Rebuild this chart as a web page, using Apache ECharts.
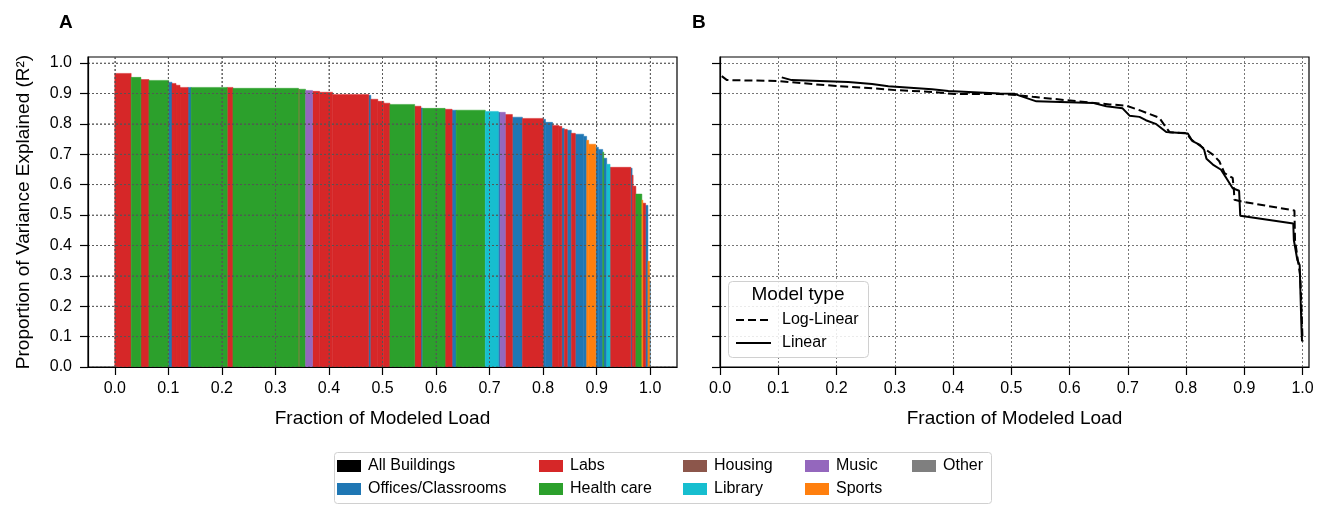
<!DOCTYPE html>
<html>
<head>
<meta charset="utf-8">
<script src="https://cdn.jsdelivr.net/npm/echarts@6/dist/echarts.min.js"></script>
<style>
html,body{margin:0;padding:0;background:#fff;}
#chart{width:1328px;height:506px;}
</style>
</head>
<body>
<div id="chart"></div>
<script>
// ---------- DATA ----------
const typeNames = ['All Buildings','Offices/Classrooms','Labs','Health care','Housing','Library','Music','Sports','Other'];
const typeColors = ['#000000','#1f77b4','#d62728','#2ca02c','#8c564b','#17becf','#9467bd','#ff7f0e','#7f7f7f'];
// legend columns (column-major like the reference)
const legendColumns = [['All Buildings','Offices/Classrooms'],['Labs','Health care'],['Housing','Library'],['Music','Sports'],['Other']];

// Panel A: cumulative fraction of modeled load (bar edges), R2 and building type per bar
const loadEdges = [0, 0.0306, 0.0488, 0.0638, 0.1007, 0.1069, 0.1144, 0.1219, 0.1369, 0.1425, 0.2100,
  0.2207, 0.3431, 0.3450, 0.3563, 0.3694, 0.3825, 0.4069, 0.4744, 0.4782, 0.4913,
  0.5025, 0.5138, 0.5601, 0.5719, 0.5751, 0.6169, 0.6300, 0.6375, 0.6919, 0.7163,
  0.7195, 0.7294, 0.7426, 0.7613, 0.8001, 0.8044, 0.8176, 0.8294, 0.8350, 0.8395,
  0.8451, 0.8526, 0.8601, 0.8757, 0.8813, 0.8851, 0.8982, 0.9032, 0.9113, 0.9132,
  0.9188, 0.9250, 0.9638, 0.9662, 0.9681, 0.9732, 0.9844, 0.9863, 0.9914, 0.9957,
  0.9989, 1.0000];
const barR2 = [0.966, 0.953, 0.946, 0.943, 0.937, 0.933, 0.927, 0.920, 0.920, 0.920,
  0.920, 0.917, 0.914, 0.914, 0.910, 0.907, 0.904, 0.897, 0.894, 0.881,
  0.874, 0.868, 0.864, 0.858, 0.852, 0.851, 0.848, 0.845, 0.845, 0.841,
  0.838, 0.838, 0.831, 0.822, 0.818, 0.815, 0.805, 0.795, 0.792, 0.785,
  0.782, 0.779, 0.769, 0.766, 0.759, 0.746, 0.733, 0.723, 0.716, 0.707,
  0.687, 0.667, 0.657, 0.654, 0.631, 0.595, 0.569, 0.549, 0.539, 0.532,
  0.348, 0.283];
const barType = ['Labs','Health care','Labs','Health care','Offices/Classrooms','Labs','Labs','Labs','Offices/Classrooms','Health care',
  'Labs','Health care','Labs','Health care','Music','Labs','Labs','Labs','Offices/Classrooms','Labs',
  'Labs','Labs','Health care','Labs','Offices/Classrooms','Health care','Labs','Offices/Classrooms','Health care','Library',
  'Offices/Classrooms','Music','Labs','Offices/Classrooms','Labs','Offices/Classrooms','Offices/Classrooms','Labs','Labs','Offices/Classrooms',
  'Labs','Offices/Classrooms','Labs','Offices/Classrooms','Offices/Classrooms','Sports','Sports','Offices/Classrooms','Offices/Classrooms','Health care',
  'Offices/Classrooms','Library','Labs','Offices/Classrooms','Labs','Labs','Health care','Sports','Labs','Offices/Classrooms',
  'Sports','Offices/Classrooms'];

// Panel B: model curves
const logLinLoad = [0.003, 0.012, 0.1, 0.158, 0.203, 0.255, 0.301, 0.364, 0.404, 0.48, 0.508, 0.537, 0.594, 0.669, 0.697, 0.72, 0.754, 0.766, 0.772, 0.8, 0.809, 0.834, 0.846, 0.857, 0.866, 0.88, 0.882, 0.883, 0.897, 0.986, 0.987, 0.992, 0.996, 0.998, 1.0];
const logLinR2 = [0.957, 0.944, 0.941, 0.931, 0.924, 0.918, 0.911, 0.905, 0.898, 0.898, 0.895, 0.889, 0.878, 0.864, 0.86, 0.845, 0.82, 0.787, 0.772, 0.77, 0.748, 0.715, 0.699, 0.677, 0.638, 0.622, 0.584, 0.55, 0.544, 0.515, 0.418, 0.35, 0.3, 0.2, 0.084];
const linLoad = [0.106, 0.123, 0.22, 0.261, 0.289, 0.364, 0.392, 0.48, 0.505, 0.514, 0.543, 0.64, 0.663, 0.691, 0.703, 0.72, 0.731, 0.749, 0.766, 0.803, 0.811, 0.823, 0.831, 0.835, 0.846, 0.86, 0.869, 0.88, 0.891, 0.893, 0.984, 0.985, 0.991, 0.995, 0.998, 0.999];
const linR2 = [0.953, 0.944, 0.938, 0.931, 0.924, 0.914, 0.908, 0.9, 0.899, 0.893, 0.874, 0.869, 0.858, 0.851, 0.827, 0.823, 0.812, 0.799, 0.773, 0.768, 0.743, 0.732, 0.715, 0.685, 0.666, 0.649, 0.622, 0.588, 0.58, 0.498, 0.472, 0.418, 0.352, 0.335, 0.132, 0.085];

const tickValues = [0, 0.1, 0.2, 0.3, 0.4, 0.5, 0.6, 0.7, 0.8, 0.9, 1.0];

// ---------- CHART ----------
const FONT = '"Liberation Sans", Arial, Helvetica, sans-serif';
const chart = echarts.init(document.getElementById('chart'), null, {renderer: 'canvas'});

function renderBar(params, api) {
  const x0 = api.value(0), x1 = api.value(1), r = api.value(2);
  const a = api.coord([x0, r]);
  const b = api.coord([x1, 0]);
  const c = api.visual('color');
  return {
    type: 'rect',
    shape: {x: a[0], y: a[1], width: b[0] - a[0], height: b[1] - a[1]},
    style: {fill: c, stroke: c, lineWidth: 0.5}
  };
}

const barSeries = typeNames.map((name, k) => {
  const data = [];
  for (let i = 0; i < barR2.length; i++) {
    if (barType[i] === name) data.push([loadEdges[i], loadEdges[i + 1], barR2[i]]);
  }
  return {
    type: 'custom', name: name, xAxisIndex: 0, yAxisIndex: 0,
    renderItem: renderBar, encode: {x: [0, 1], y: 2},
    itemStyle: {color: typeColors[k]}, data: data, z: 2, silent: true
  };
});

const GRID_COLOR = '#555';
const GRID_DASH = [2, 2];
const gridLine = {show: true, lineStyle: {color: GRID_COLOR, width: 0.8, type: GRID_DASH}};
const fmt = v => Number(v).toFixed(1);

// grid lines drawn over the bars in panel A (as in the reference), placed with the axis scales
function renderGridOverlay(params, api) {
  const v = api.value(0);
  const cs = params.coordSys;
  const px = api.coord([v, 0])[0];
  const py = api.coord([0, v])[1];
  const st = {stroke: GRID_COLOR, lineWidth: 0.8, lineDash: GRID_DASH, fill: null};
  return {
    type: 'group', silent: true,
    children: [
      {type: 'line', shape: {x1: px, y1: cs.y, x2: px, y2: cs.y + cs.height}, style: st},
      {type: 'line', shape: {x1: cs.x, y1: py, x2: cs.x + cs.width, y2: py}, style: st}
    ]
  };
}
const gridOverlay = {
  type: 'custom', name: 'gridOverlay', xAxisIndex: 0, yAxisIndex: 0,
  renderItem: renderGridOverlay, encode: {x: 0, y: 0},
  data: tickValues.map(v => [v]), z: 4, silent: true
};

function xAxisCfg(gi, min, max, extra) {
  return Object.assign({
    gridIndex: gi, type: 'value', min: min, max: max, z: 5,
    axisLine: {show: true, onZero: false, lineStyle: {color: '#000', width: 1.2}},
    axisTick: {show: true, customValues: tickValues, length: 8, lineStyle: {color: '#000', width: 1.2}},
    axisLabel: {customValues: tickValues, formatter: fmt, fontSize: 16, color: '#000', margin: 14, fontFamily: FONT},
    splitLine: gridLine,
    name: 'Fraction of Modeled Load', nameLocation: 'middle', nameGap: 42,
    nameTextStyle: {fontSize: 19, color: '#000', fontFamily: FONT}
  }, extra || {});
}
function yAxisCfg(gi, showLabels, extra) {
  return Object.assign({
    gridIndex: gi, type: 'value', min: 0, max: 1.02, interval: 0.1, z: 5,
    axisLine: {show: true, onZero: false, lineStyle: {color: '#000', width: 1.2}},
    axisTick: {show: true, customValues: tickValues, length: 8, lineStyle: {color: '#000', width: 1.2}},
    axisLabel: {show: showLabels, customValues: tickValues, formatter: fmt, fontSize: 16, color: '#000', margin: 16, fontFamily: FONT},
    splitLine: gridLine
  }, extra || {});
}

const legends = legendColumns.map((col, i) => ({
  data: col, orient: 'vertical', left: [337, 539, 683, 805, 912][i], top: 458,
  itemWidth: 24, itemHeight: 12, itemGap: 7, padding: 0, icon: 'rect',
  selectedMode: false, z: 6,
  textStyle: {fontSize: 16, color: '#000', fontFamily: FONT, padding: [0, 0, 0, 2]}
}));
legends.push({
  data: ['Log-Linear', 'Linear'], orient: 'vertical', left: 735, top: 312,
  itemWidth: 35, itemHeight: 14, itemGap: 7, padding: 0, selectedMode: false, z: 6,
  itemStyle: {color: 'transparent', borderColor: 'transparent', borderWidth: 0, opacity: 0},
  textStyle: {fontSize: 16, color: '#000', fontFamily: FONT, padding: [0, 0, 0, 6]}
});

const option = {
  animation: false,
  backgroundColor: '#fff',
  textStyle: {fontFamily: FONT},
  grid: [
    {left: 88, top: 57, width: 589, height: 310, show: true, borderColor: '#000', borderWidth: 1.2, backgroundColor: 'transparent'},
    {left: 720, top: 57, width: 589, height: 310, show: true, borderColor: '#000', borderWidth: 1.2, backgroundColor: 'transparent'}
  ],
  xAxis: [
    xAxisCfg(0, -0.05, 1.05, {splitNumber: 11}),
    xAxisCfg(1, 0, 1.011, {interval: 0.1, z: 1})
  ],
  yAxis: [
    yAxisCfg(0, true, {
      name: 'Proportion of Variance Explained (R²)', nameLocation: 'middle', nameGap: 55,
      nameTextStyle: {fontSize: 19, color: '#000', fontFamily: FONT}
    }),
    yAxisCfg(1, false, {z: 1})
  ],
  legend: legends,
  series: barSeries.concat([
    gridOverlay,
    {
      type: 'line', name: 'Log-Linear', xAxisIndex: 1, yAxisIndex: 1,
      data: logLinLoad.map((x, i) => [x, logLinR2[i]]),
      symbol: 'none', showSymbol: false, z: 3,
      lineStyle: {color: '#000', width: 2, type: [8, 4]}, itemStyle: {color: '#000'}
    },
    {
      type: 'line', name: 'Linear', xAxisIndex: 1, yAxisIndex: 1,
      data: linLoad.map((x, i) => [x, linR2[i]]),
      symbol: 'none', showSymbol: false, z: 3,
      lineStyle: {color: '#000', width: 2, type: 'solid'}, itemStyle: {color: '#000'}
    }
  ]),
  graphic: [
    {type: 'text', x: 59, y: 23, z: 10, style: {text: 'A', fontSize: 19, fontWeight: 'bold', fontFamily: FONT, fill: '#000', verticalAlign: 'middle'}},
    {type: 'text', x: 692, y: 23, z: 10, style: {text: 'B', fontSize: 19, fontWeight: 'bold', fontFamily: FONT, fill: '#000', verticalAlign: 'middle'}},
    {type: 'rect', z: 4, shape: {x: 334.5, y: 452.5, width: 657, height: 51, r: 3}, style: {fill: '#fff', stroke: '#d0d0d0', lineWidth: 1}},
    {type: 'rect', z: 4, shape: {x: 728.5, y: 281.5, width: 140, height: 76, r: 4}, style: {fill: 'rgba(255,255,255,0.85)', stroke: '#d0d0d0', lineWidth: 1}},
    {type: 'text', x: 798, y: 295, z: 6, style: {text: 'Model type', fontSize: 19, fontFamily: FONT, fill: '#000', align: 'center', verticalAlign: 'middle'}}
  ]
};
chart.setOption(option);
</script>
</body>
</html>
